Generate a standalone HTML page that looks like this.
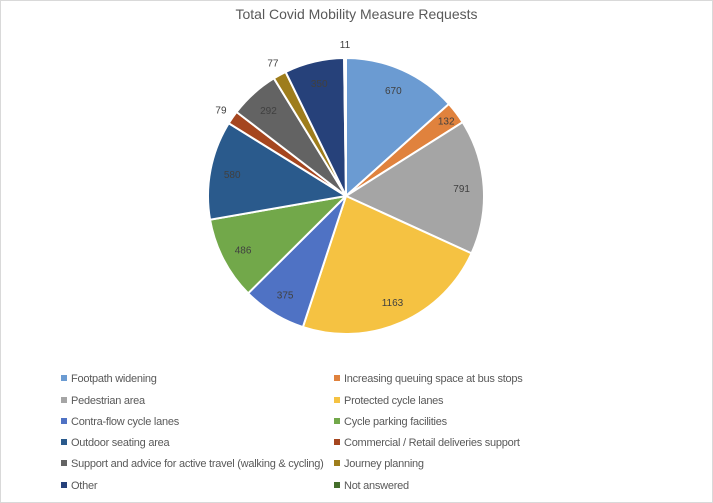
<!DOCTYPE html>
<html><head><meta charset="utf-8"><style>
body{margin:0;background:#fff;}
.wrap{position:relative;width:711px;height:501px;border:1px solid #d9d9d9;overflow:hidden;font-family:"Liberation Sans",sans-serif;}
.title{position:absolute;top:5px;left:0;width:711px;text-align:center;font-size:14px;color:#595959;}
.lg{position:absolute;font-size:11px;letter-spacing:-0.25px;color:#595959;white-space:nowrap;}
.lg i{display:inline-block;width:6px;height:6px;margin-right:4px;vertical-align:1px;}
</style></head><body><div class="wrap">
<div class="title">Total Covid Mobility Measure Requests</div>
<svg id="s" width="711" height="501" style="position:absolute;left:0;top:0"></svg>
<div id="leg"></div>
</div>
<script>
var d=[["Footpath widening",670,"#6b9bd2"],["Increasing queuing space at bus stops",132,"#e0823d"],["Pedestrian area",791,"#a5a5a5"],["Protected cycle lanes",1163,"#f5c242"],["Contra-flow cycle lanes",375,"#4f72c4"],["Cycle parking facilities",486,"#72a84a"],["Outdoor seating area",580,"#2a5a8c"],["Commercial / Retail deliveries support",79,"#a5461f"],["Support and advice for active travel (walking & cycling)",292,"#636363"],["Journey planning",77,"#9e7d1c"],["Other",350,"#26417a"],["Not answered",11,"#446e2b"]];
var t=0;d.forEach(function(x){t+=x[1]});
var cx=345,cy=195,r=138,a=-Math.PI/2,h="",lab="";
d.forEach(function(x,i){var b=a+x[1]/t*2*Math.PI;
var x1=cx+r*Math.cos(a),y1=cy+r*Math.sin(a),x2=cx+r*Math.cos(b),y2=cy+r*Math.sin(b);
h+='<path d="M'+cx+','+cy+' L'+x1+','+y1+' A'+r+','+r+' 0 '+((b-a)>Math.PI?1:0)+' 1 '+x2+','+y2+' Z" fill="'+x[2]+'" stroke="#fff" stroke-width="2"/>';
var m=(a+b)/2,rr=x[1]<100?r+14:r*0.84;if(x[1]==132)rr=r*0.91;if(x[1]<20)rr=r+14;
var lx=cx+rr*Math.cos(m),ly=cy+rr*Math.sin(m);
lab+='<text x="'+lx+'" y="'+(ly+4)+'" text-anchor="middle" font-size="10" fill="#404040" font-family="Liberation Sans,sans-serif">'+x[1]+'</text>';
a=b;});
document.getElementById("s").innerHTML=h+lab;
var L="",ys=[372,394,415,436,457,479];
d.forEach(function(x,i){var col=i%2,row=(i-col)/2;
L+='<div class="lg" style="left:'+(col?333:60)+'px;top:'+ys[row]+'px"><i style="background:'+x[2]+'"></i>'+x[0].replace(/&/g,"&amp;")+'</div>';});
document.getElementById("leg").innerHTML=L;
</script>
</body></html>
